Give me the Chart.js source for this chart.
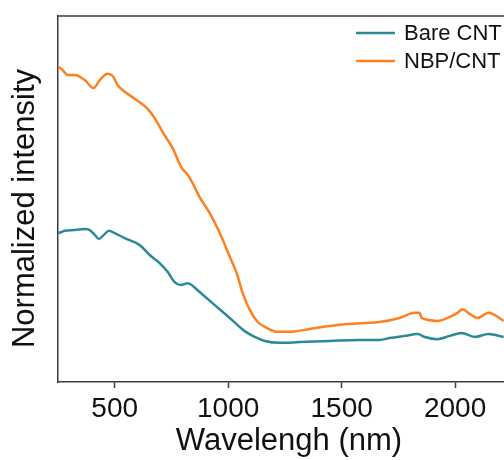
<!DOCTYPE html>
<html>
<head>
<meta charset="utf-8">
<script src="https://cdn.jsdelivr.net/npm/chart.js@4.4.1/dist/chart.umd.min.js"></script>
<style>
  html, body { margin: 0; padding: 0; background: #fff; overflow: hidden; }
  #wrap { width: 504px; height: 460px; position: relative; overflow: hidden; }
  canvas { display: block; }
</style>
</head>
<body>
<div id="wrap"><canvas id="c" width="522" height="460"></canvas></div>
<script>
// ---- Data ----
const seriesLabels = ["Bare CNT", "NBP/CNT"];
const xTickValues = [500, 1000, 1500, 2000];
const yAxisTitle = "Normalized intensity";
const xAxisTitle = "Wavelengh (nm)";

const bareWavelength = [250, 267, 280, 324, 368, 390, 412, 430, 452, 474, 500, 544, 610, 654, 698, 733, 764, 791, 822, 839, 874, 941, 1007, 1073, 1117, 1161, 1227, 1315, 1447, 1579, 1667, 1711, 1777, 1835, 1866, 1923, 1976, 2029, 2086, 2147, 2214];
const bareIntensity  = [0.407, 0.410, 0.413, 0.415, 0.418, 0.415, 0.402, 0.391, 0.402, 0.413, 0.407, 0.393, 0.374, 0.347, 0.325, 0.301, 0.273, 0.265, 0.270, 0.265, 0.246, 0.210, 0.175, 0.139, 0.123, 0.112, 0.107, 0.109, 0.112, 0.115, 0.115, 0.120, 0.126, 0.131, 0.123, 0.117, 0.126, 0.134, 0.123, 0.131, 0.123];

const nbpWavelength = [250, 266, 293, 324, 368, 407, 434, 469, 491, 513, 540, 597, 641, 676, 711, 755, 795, 822, 852, 874, 918, 963, 1007, 1037, 1064, 1095, 1130, 1170, 1214, 1271, 1359, 1447, 1513, 1601, 1667, 1755, 1822, 1844, 1852, 1923, 1976, 2011, 2033, 2064, 2099, 2147, 2214];
const nbpIntensity  = [0.861, 0.855, 0.839, 0.839, 0.825, 0.803, 0.825, 0.842, 0.836, 0.811, 0.795, 0.770, 0.749, 0.721, 0.683, 0.639, 0.585, 0.566, 0.533, 0.505, 0.462, 0.407, 0.342, 0.298, 0.243, 0.197, 0.164, 0.148, 0.137, 0.137, 0.145, 0.153, 0.158, 0.161, 0.164, 0.175, 0.189, 0.189, 0.175, 0.167, 0.178, 0.189, 0.199, 0.186, 0.175, 0.189, 0.167];

const seriesColors = ["#2b8a96", "#ff8020"];
const axisColor = "#3c3c3c";
const fontFamily = "'Liberation Sans', Arial, sans-serif";

function toPoints(xs, ys) { return xs.map((x, i) => ({ x: x, y: ys[i] })); }

// Frame (top border), rotated y title and in-plot legend
const framePlugin = {
  id: 'frameAndLegend',
  afterDatasetsDraw(chart) {
    const { ctx, chartArea } = chart;
    ctx.save();
    ctx.strokeStyle = axisColor;
    ctx.lineWidth = 1.5;
    ctx.beginPath();
    ctx.moveTo(chartArea.left, chartArea.top);
    ctx.lineTo(chartArea.right, chartArea.top);
    ctx.stroke();

    // y axis title
    ctx.save();
    ctx.translate(chartArea.left - 33, chartArea.top + (chartArea.bottom - chartArea.top) * 0.526);
    ctx.rotate(-Math.PI / 2);
    ctx.font = "31px " + fontFamily;
    ctx.fillStyle = '#111';
    ctx.textAlign = 'center';
    ctx.textBaseline = 'middle';
    ctx.fillText(yAxisTitle, 0, 0);
    ctx.restore();

    // legend
    const x0 = chartArea.right - 164, x1 = chartArea.right - 125, tx = chartArea.right - 116;
    ctx.font = "22px " + fontFamily;
    ctx.textBaseline = 'middle';
    ctx.textAlign = 'left';
    chart.data.datasets.forEach((ds, i) => {
      const y = chartArea.top + 17 + i * 28;
      ctx.strokeStyle = ds.borderColor;
      ctx.lineWidth = 2.5;
      ctx.beginPath();
      ctx.moveTo(x0, y);
      ctx.lineTo(x1, y);
      ctx.stroke();
      ctx.fillStyle = '#111';
      ctx.fillText(ds.label, tx, y + 1);
    });
    ctx.restore();
  }
};

new Chart(document.getElementById('c'), {
  type: 'line',
  data: {
    datasets: [
      { label: seriesLabels[0], data: toPoints(bareWavelength, bareIntensity), borderColor: seriesColors[0], backgroundColor: seriesColors[0] },
      { label: seriesLabels[1], data: toPoints(nbpWavelength, nbpIntensity), borderColor: seriesColors[1], backgroundColor: seriesColors[1] }
    ]
  },
  options: {
    responsive: false,
    animation: false,
    devicePixelRatio: 1,
    layout: { padding: { top: 16, right: 2, bottom: 0, left: 0 } },
    elements: {
      point: { radius: 0 },
      line: { borderWidth: 2.5, cubicInterpolationMode: 'monotone' }
    },
    plugins: { legend: { display: false }, tooltip: { enabled: false } },
    scales: {
      x: {
        type: 'linear',
        min: 250,
        max: 2286,
        afterBuildTicks(scale) { scale.ticks = xTickValues.map(v => ({ value: v })); },
        afterFit(scale) { scale.height = 78; },
        grid: { display: true, drawOnChartArea: false, drawTicks: true, tickLength: 6, color: axisColor, tickWidth: 1.5 },
        border: { display: true, color: axisColor, width: 1.5 },
        ticks: { color: '#111', font: { family: fontFamily, size: 28 }, padding: 4, maxRotation: 0, autoSkip: false, callback: (v) => String(v) },
        title: { display: true, text: xAxisTitle, color: '#111', font: { family: fontFamily, size: 31 }, padding: { top: 2, bottom: 0 } }
      },
      y: {
        type: 'linear',
        min: 0,
        max: 1,
        afterFit(scale) { scale.width = 58; },
        grid: { display: false },
        border: { display: true, color: axisColor, width: 1.5 },
        ticks: { display: false },
        title: { display: false }
      }
    }
  },
  plugins: [framePlugin]
});
</script>
</body>
</html>
